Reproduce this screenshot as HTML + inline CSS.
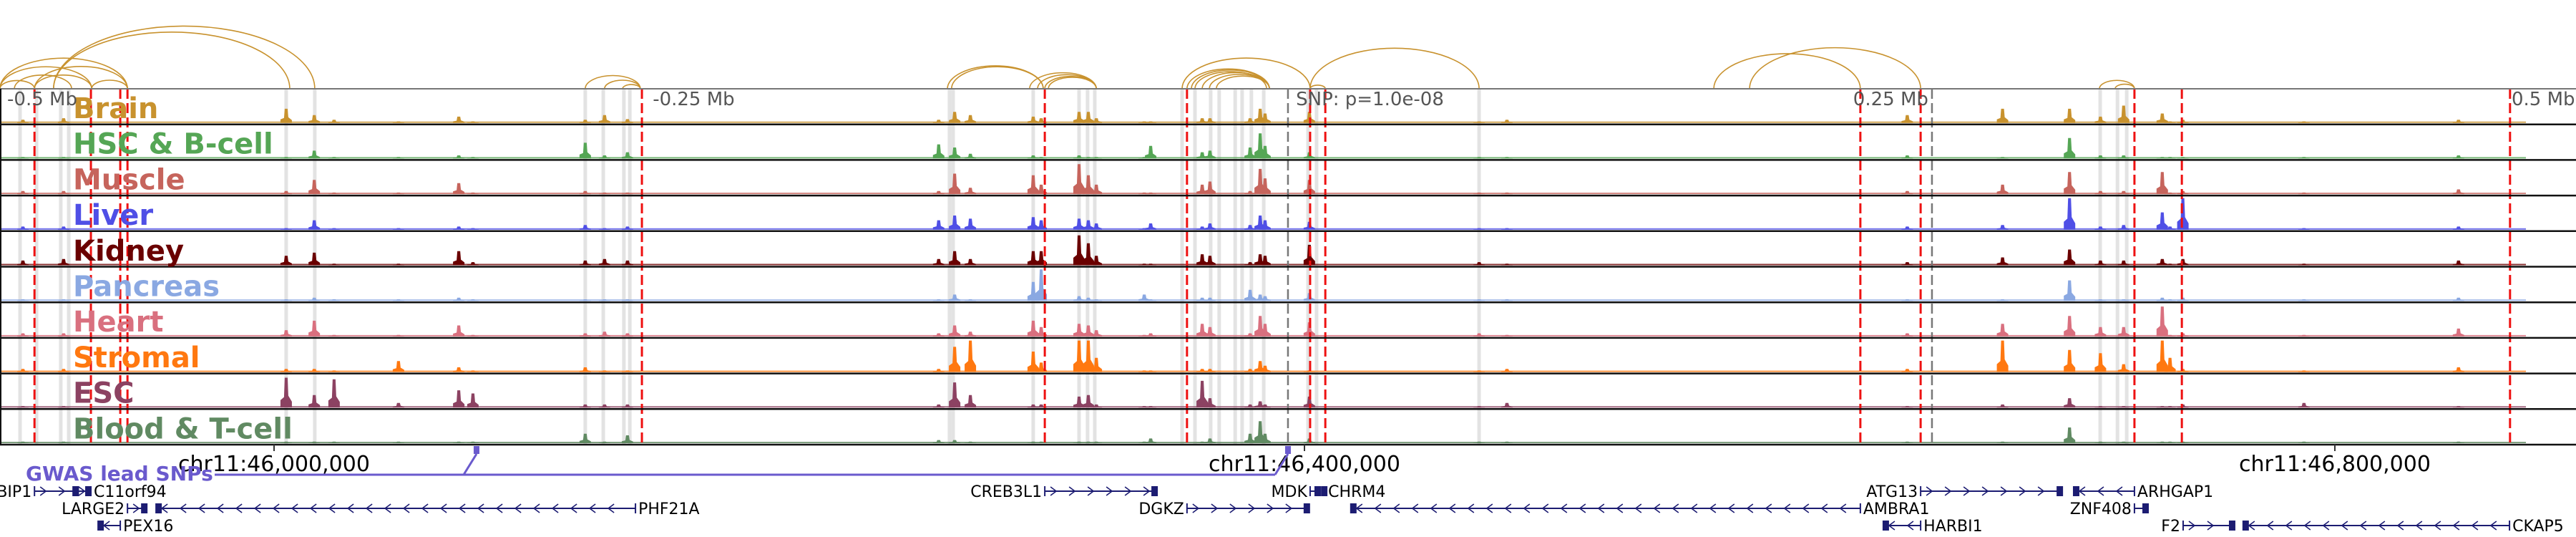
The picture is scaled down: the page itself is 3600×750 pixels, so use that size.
<!DOCTYPE html>
<html><head><meta charset="utf-8"><style>
html,body{margin:0;padding:0;background:#fff;}
svg{display:block;font-family:"DejaVu Sans","Liberation Sans",sans-serif;}
</style></head><body>
<svg id="chart" width="3600" height="750" viewBox="0 0 3600 750" xmlns="http://www.w3.org/2000/svg">
<g id="bands"></g>
<g id="arcs"></g>
<g id="tracks"></g>
<g id="vlines"></g>
<g id="frames"></g>
<g id="labels"></g>
<g id="axis"></g>
<g id="gwas"></g>
<g id="genes"></g>
</svg>
<script>
// ---- data (kb relative to chr11:46,000,000) ----
const trackNames = ["Brain","HSC & B-cell","Muscle","Liver","Kidney","Pancreas","Heart","Stromal","ESC","Blood & T-cell"];
const trackColors = ["#c8922e","#55a655","#c6645c","#4f4fe6","#6a0000","#8aa8e2","#d9707f","#ff7810","#8c4262","#608a62"];
const peakPos = [-97.5,-81.7,4.7,15.6,23.3,48.3,71.7,77.2,120.8,128.3,137.2,258,264.2,270.3,294.7,297.8,312.5,316.1,319.2,337.8,340.3,360.3,363.3,378.9,382.8,384.7,401.9,467.8,478.6,634,671,697,709,718,733,736,741,788,848];
const hBrain   = [.1,.15,.45,.25,.1,.05,.2,.05,.1,.25,.12,.1,.35,.25,.2,.15,.35,.35,.15,.05,.05,.15,.15,.15,.45,.3,.35,.05,.1,.25,.45,.45,.2,.55,.3,.05,.1,.05,.1];
const hHSC     = [.05,.05,.05,.25,.05,.05,.1,.05,.5,.1,.2,.45,.35,.15,.1,.05,.1,.05,.05,.05,.4,.2,.25,.35,.8,.4,.2,.05,.05,.1,.05,.65,.1,.1,.05,.05,.05,.05,.1];
const hMuscle  = [.1,.1,.1,.45,.05,.05,.35,.05,.1,.05,.05,.1,.65,.2,.6,.3,.95,.6,.3,.05,.05,.3,.4,.1,.8,.5,.45,.05,.05,.1,.3,.7,.1,.1,.7,.05,.1,.05,.15];
const hLiver   = [.1,.1,.05,.3,.05,.05,.1,.05,.15,.05,.1,.3,.45,.35,.4,.3,.35,.3,.2,.05,.2,.1,.2,.15,.45,.3,.25,.05,.05,.1,.15,1.0,.1,.15,.55,.1,1.0,.05,.1];
const hKidney  = [.15,.2,.3,.4,.05,.05,.45,.1,.15,.2,.15,.2,.45,.2,.45,.45,.95,.7,.3,.05,.05,.35,.3,.1,.35,.3,.65,.1,.05,.1,.25,.5,.15,.15,.2,.05,.2,.05,.15];
const hPancreas= [.05,.05,.05,.1,.05,.05,.1,.05,.05,.05,.05,.05,.2,.05,.6,1.0,.15,.1,.05,.2,.05,.1,.1,.35,.2,.15,.25,.05,.05,.05,.05,.65,.05,.05,.1,.05,.1,.05,.1];
const hHeart   = [.1,.1,.2,.5,.05,.05,.35,.05,.1,.15,.1,.1,.35,.15,.5,.3,.4,.35,.2,.05,.1,.4,.3,.1,.65,.4,.45,.1,.05,.1,.4,.65,.3,.3,.95,.05,.1,.05,.25];
const hStromal = [.1,.1,.1,.1,.05,.35,.15,.05,.15,.05,.05,.1,.8,1.0,.65,.3,1.0,1.0,.45,.05,.05,.1,.1,.1,.35,.2,.05,.05,.1,.1,1.0,.7,.6,.25,1.0,.45,.1,.05,.15];
const hESC     = [.05,.05,.95,.4,.9,.15,.55,.45,.1,.1,.1,.1,.8,.4,.1,.1,.35,.4,.1,.05,.05,.85,.3,.1,.2,.1,.35,.05,.15,.05,.1,.3,.05,.05,.05,.05,.1,.15,.05];
const hBlood   = [.05,.05,.05,.05,.05,.05,.05,.05,.3,.05,.25,.1,.1,.05,.05,.05,.05,.05,.05,.05,.15,.05,.15,.3,.7,.3,.15,.05,.05,.05,.05,.5,.05,.05,.05,.05,.05,.05,.05];
const bandPos = [-98.6,-92.2,-82.8,-79.7,4.7,15.8,120.8,127.8,135.8,138.1,262.2,263.6,294.7,312.5,315.8,318.6,352.5,357.5,363.6,366.9,373.1,375.8,379.4,384.2,401.4,404.7,467.8,708.9,715.6,719.2];
const redLines = [-93,-71.1,-59.7,-56.9,142.8,299.2,354.4,402.2,408.1,615.8,639.2,722.2,740.6,868];
const greyLines = [393.6,643.6];
const arcStart = [-106.4,-106.4,-106.4,-100.8,-93,-93,-85.6,-85.6,-70.8,120.8,128.3,135.3,261.4,263,293.3,296.4,299.2,300.6,352.5,354.4,356.1,357.5,360.3,363.1,365.8,402.2,402.2,558.9,572.8,708.6,714.7];
const arcEnd   = [-93,-70.8,-56.9,-78.6,-70.8,-56.9,6.1,15.8,-56.9,142.2,142.2,142.2,298.6,298.6,319.2,319.2,319.2,319.2,402.2,386.4,386.4,385.3,386.4,386.4,386.4,467.8,408.1,615.8,639.2,722.2,722.2];
const tickPos = [0,400,800];
const tickLabels = ["chr11:46,000,000","chr11:46,400,000","chr11:46,800,000"];
const relLabels = ["-0.5 Mb","-0.25 Mb","SNP: p=1.0e-08","0.25 Mb","0.5 Mb"];
const relPos = [-103.6,147,396.7,613,868.6];
const gwasSnps = [78.6,393.6];
const geneNames = ["BIP1","C11orf94","CREB3L1","MDK","CHRM4","ATG13","ARHGAP1","LARGE2","PHF21A","DGKZ","AMBRA1","ZNF408","PEX16","HARBI1","F2","CKAP5"];
const geneStart = [-93,-78,299.2,402.2,406.7,639.2,698.6,-56.9,-45.8,354.4,418,722.2,-68.3,624.7,741.1,764.4];
const geneEnd   = [-76,-71.1,342.8,406.1,408.1,694.2,722.2,-49.4,140.3,401.9,615.8,727.5,-59.7,639.2,761.1,867.8];
const geneStrand= [1,1,1,1,-1,1,-1,1,-1,1,-1,1,-1,-1,1,-1];
const geneRow   = [0,0,0,0,0,0,0,1,1,1,1,1,2,2,2,2];
const geneLabelSide = [-1,1,-1,-1,1,-1,1,-1,1,-1,1,-1,1,1,-1,1];

const heights = [hBrain,hHSC,hMuscle,hLiver,hKidney,hPancreas,hHeart,hStromal,hESC,hBlood];
const NS="http://www.w3.org/2000/svg";
function x(kb){return 383+kb*3.6;}
const TOP=124, TH=49.7, NT=10, BOTTOM=TOP+TH*NT;
function mk(tag,attrs,parent){const e=document.createElementNS(NS,tag);for(const k in attrs)e.setAttribute(k,attrs[k]);parent.appendChild(e);return e;}
const G=id=>document.getElementById(id);

bandPos.forEach(p=>{const r=mk('rect',{x:x(p)-2.5,y:TOP,width:5,height:BOTTOM-TOP,fill:'#e3e3e3'},G('bands'));

});

arcStart.forEach((s,i)=>{const x1=x(s),x2=x(arcEnd[i]);const rx=(x2-x1)/2,ry=Math.min(rx*0.48,120);
const p=mk('path',{d:`M${x1},${TOP} A${rx},${ry} 0 0 1 ${x2},${TOP}`,fill:'none',stroke:'#c8922e','stroke-width':1.6},G('arcs'));

});

heights.forEach((hs,t)=>{const base=TOP+TH*(t+1)-2;const g=mk('g',{},G('tracks'));


mk('rect',{x:0,y:base-2,width:3530,height:2,fill:trackColors[t],opacity:0.8},g);
hs.forEach((h,i)=>{const cx=x(peakPos[i]);const H=h*44;
const pk=mk('path',{d:`M${cx-8},${base} L${cx-8},${base-H*0.25} L${cx-3},${base-H*0.35} L${cx-2},${base-H} L${cx+2},${base-H} L${cx+3},${base-H*0.4} L${cx+8},${base-H*0.2} L${cx+8},${base} Z`,fill:trackColors[t]},g);

});
});

redLines.forEach(p=>{const l=mk('line',{x1:x(p),x2:x(p),y1:TOP,y2:BOTTOM,stroke:'#ee1111','stroke-width':3,'stroke-dasharray':'14,6'},G('vlines'));

});
greyLines.forEach(p=>{const l=mk('line',{x1:x(p),x2:x(p),y1:TOP,y2:BOTTOM,stroke:'#777','stroke-width':2.5,'stroke-dasharray':'14,6'},G('vlines'));

});

mk('line',{x1:0,x2:3600,y1:TOP,y2:TOP,stroke:'#777','stroke-width':2},G('frames'));
for(let t=1;t<=NT;t++){mk('line',{x1:0,x2:3600,y1:TOP+TH*t,y2:TOP+TH*t,stroke:'#111','stroke-width':2.5},G('frames'));}
mk('line',{x1:1,x2:1,y1:TOP,y2:BOTTOM,stroke:'#111','stroke-width':2},G('frames'));

trackNames.forEach((n,t)=>{const tx=mk('text',{x:102,y:TOP+TH*t+41,'font-size':40,'font-weight':'bold',fill:trackColors[t]},G('labels'));tx.textContent=n;

});
relLabels.forEach((n,i)=>{const tx=mk('text',{x:x(relPos[i]),y:147,'font-size':26,fill:'#555'},G('labels'));tx.textContent=n;

});

tickPos.forEach((p,i)=>{mk('line',{x1:x(p),x2:x(p),y1:BOTTOM,y2:BOTTOM+9,stroke:'#333','stroke-width':2},G('axis'));
const tx=mk('text',{x:x(p),y:658,'font-size':30,'text-anchor':'middle',fill:'#000'},G('axis'));tx.textContent=tickLabels[i];

});

const gl=mk('text',{x:36,y:671,'font-size':28,'font-weight':'bold',fill:'#6a5acd'},G('gwas'));gl.textContent="GWAS lead SNPs";


mk('line',{x1:300,x2:x(gwasSnps[1])-18,y1:663,y2:663,stroke:'#6a5acd','stroke-width':3},G('gwas'));
gwasSnps.forEach((p,i)=>{const cx=x(p);
mk('line',{x1:cx-18,y1:663,x2:cx,y2:634,stroke:'#6a5acd','stroke-width':3},G('gwas'));
const r=mk('rect',{x:cx-4,y:623,width:8,height:11,fill:'#6a5acd'},G('gwas'));

});

const rowY=[686,710,734];
geneNames.forEach((n,i)=>{const y=rowY[geneRow[i]];const x1=x(geneStart[i]),x2=x(geneEnd[i]);
const g=mk('g',{},G('genes'));


mk('line',{x1:x1,x2:x2,y1:y,y2:y,stroke:'#1c1c72','stroke-width':2},g);
mk('line',{x1:x1,x2:x1,y1:y-7,y2:y+7,stroke:'#1c1c72','stroke-width':2},g);
mk('line',{x1:x2,x2:x2,y1:y-7,y2:y+7,stroke:'#1c1c72','stroke-width':2},g);
for(let ax=x1+12;ax<x2-8;ax+=26){const d=geneStrand[i]>0?`M${ax-4},${y-6} L${ax+4},${y} L${ax-4},${y+6}`:`M${ax+4},${y-6} L${ax-4},${y} L${ax+4},${y+6}`;
mk('path',{d:d,fill:'none',stroke:'#1c1c72','stroke-width':1.6},g);}
const ex=geneStrand[i]>0?x2-8:x1;mk('rect',{x:ex,y:y-7,width:8,height:14,fill:'#1c1c72'},g);
const left=geneLabelSide[i]<0;
const tx=mk('text',{x:left?x1-4:x2+4,y:y+8,'font-size':22,'text-anchor':left?'end':'start',fill:'#000'},g);tx.textContent=n;
});
</script>
</body></html>
